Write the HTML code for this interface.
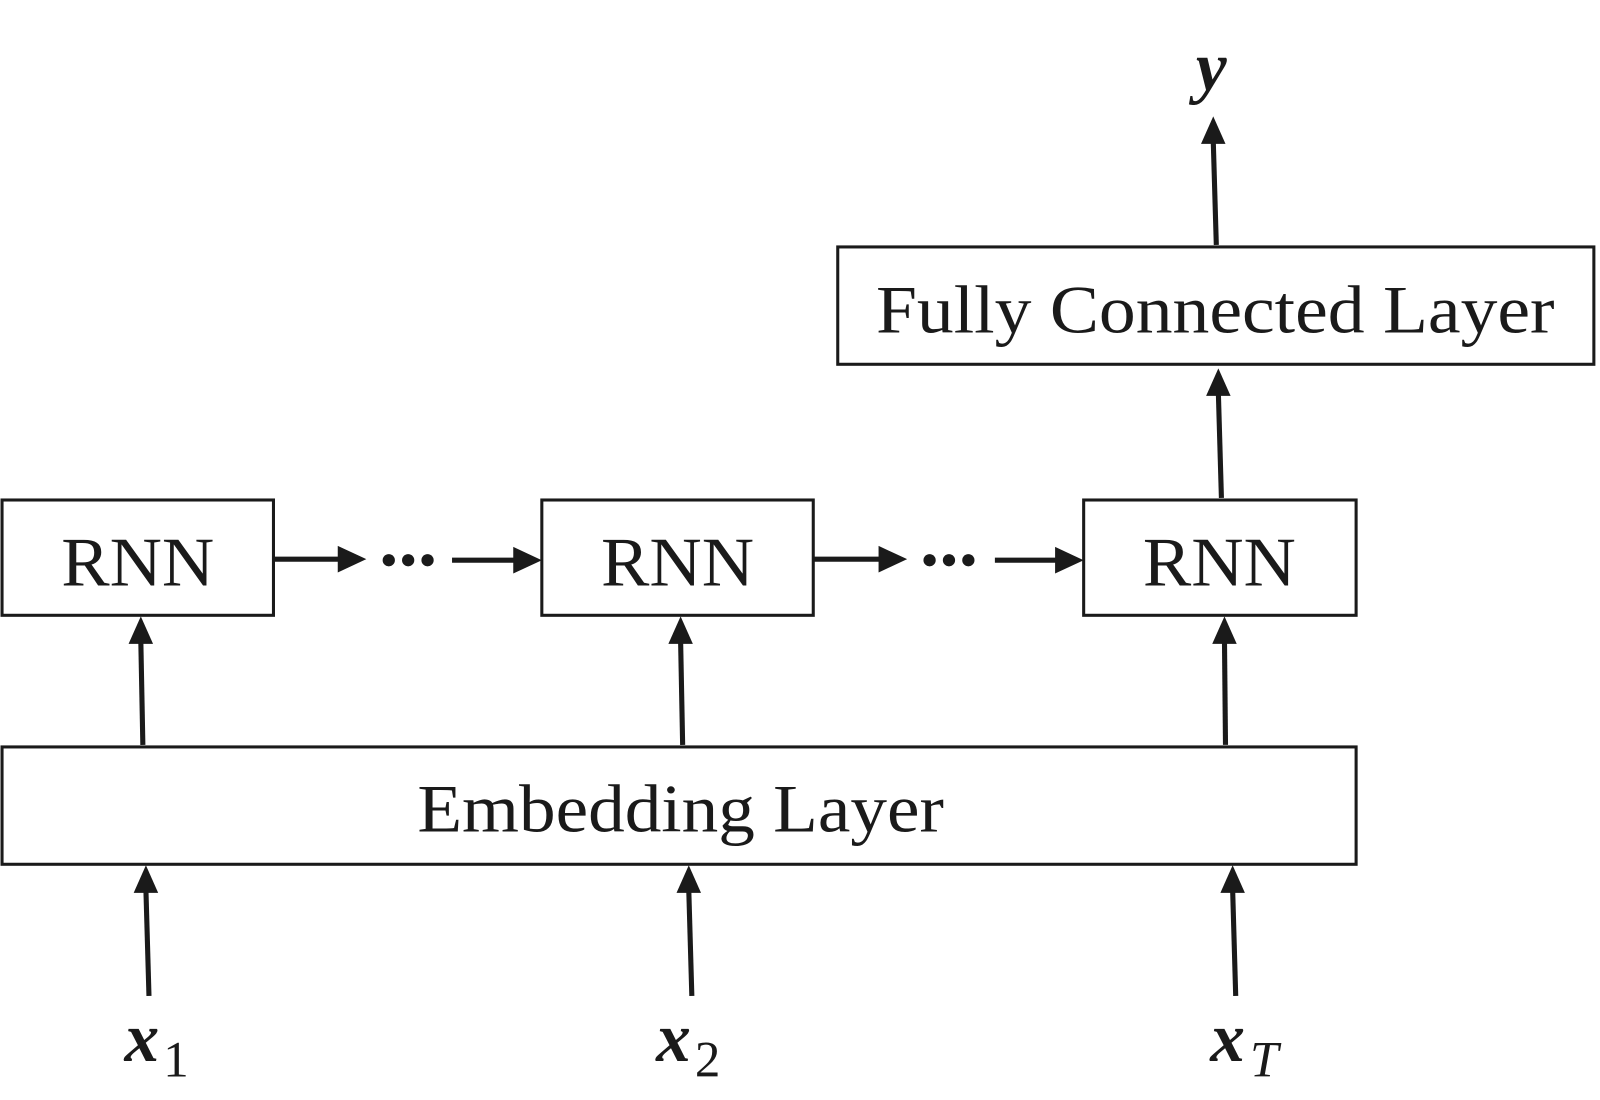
<!DOCTYPE html>
<html><head><meta charset="utf-8"><style>
html,body{margin:0;padding:0;background:#fff;}
svg{display:block;}
</style></head><body>
<svg width="1600" height="1100" viewBox="0 0 1600 1100" xmlns="http://www.w3.org/2000/svg">
<g transform="scale(1.0204)">
<g fill="none" stroke="#1a1a1a" stroke-width="3">
<rect x="821" y="242" width="741" height="115"/>
<rect x="2" y="490" width="266" height="113"/>
<rect x="531" y="490" width="266" height="113"/>
<rect x="1062" y="490" width="267" height="113"/>
<rect x="2" y="732" width="1327" height="115"/>
</g>
<g stroke="#1a1a1a" stroke-width="5" fill="none">
<line x1="1192" y1="240" x2="1189" y2="138"/>
<line x1="1197" y1="488" x2="1194" y2="385"/>
<line x1="140" y1="730" x2="138" y2="628"/>
<line x1="669" y1="730" x2="667" y2="628"/>
<line x1="1201" y1="730" x2="1200" y2="628"/>
<line x1="146" y1="976" x2="143" y2="872"/>
<line x1="678" y1="976" x2="675" y2="872"/>
<line x1="1211" y1="976" x2="1208" y2="872"/>
<line x1="268" y1="548" x2="335" y2="548"/>
<line x1="443" y1="549" x2="508" y2="549"/>
<line x1="797" y1="548" x2="865" y2="548"/>
<line x1="975" y1="549" x2="1040" y2="549"/>
</g>
<g fill="#1a1a1a">
<polygon points="1189,114 1177,141 1201,141"/>
<polygon points="1194,361 1182,388 1206,388"/>
<polygon points="138,604 126,631 150,631"/>
<polygon points="667,604 655,631 679,631"/>
<polygon points="1200,604 1188,631 1212,631"/>
<polygon points="143,848 131,875 155,875"/>
<polygon points="675,848 663,875 687,875"/>
<polygon points="1208,848 1196,875 1220,875"/>
<polygon points="359,548 331,535 331,561"/>
<polygon points="531,549 503,536 503,562"/>
<polygon points="889,548 861,535 861,561"/>
<polygon points="1062,549 1034,536 1034,562"/>
<circle cx="381" cy="549" r="6"/><circle cx="400" cy="549" r="6"/><circle cx="419" cy="549" r="6"/>
<circle cx="911" cy="549" r="6"/><circle cx="930" cy="549" r="6"/><circle cx="949" cy="549" r="6"/>
</g>
<g font-family="Liberation Serif, serif" fill="#1a1a1a" text-anchor="middle">
<text x="1191" y="326" font-size="66" textLength="665" lengthAdjust="spacingAndGlyphs">Fully Connected Layer</text>
<text x="135" y="574" font-size="68" textLength="150" lengthAdjust="spacingAndGlyphs">RNN</text>
<text x="664" y="574" font-size="68" textLength="150" lengthAdjust="spacingAndGlyphs">RNN</text>
<text x="1195" y="574" font-size="68" textLength="150" lengthAdjust="spacingAndGlyphs">RNN</text>
<text x="667" y="815" font-size="66" textLength="516" lengthAdjust="spacingAndGlyphs">Embedding Layer</text>
<text x="1187" y="88" font-size="68" font-weight="bold" font-style="italic">y</text>
</g>
<g font-family="Liberation Serif, serif" fill="#1a1a1a">
<text x="122" y="1040" font-size="68" font-weight="bold" font-style="italic">x</text>
<text x="160" y="1055" font-size="50">1</text>
<text x="643" y="1040" font-size="68" font-weight="bold" font-style="italic">x</text>
<text x="681" y="1055" font-size="50">2</text>
<text x="1186" y="1040" font-size="68" font-weight="bold" font-style="italic">x</text>
<text x="1225" y="1055" font-size="50" font-style="italic">T</text>
</g>
</g>
</svg>
</body></html>
